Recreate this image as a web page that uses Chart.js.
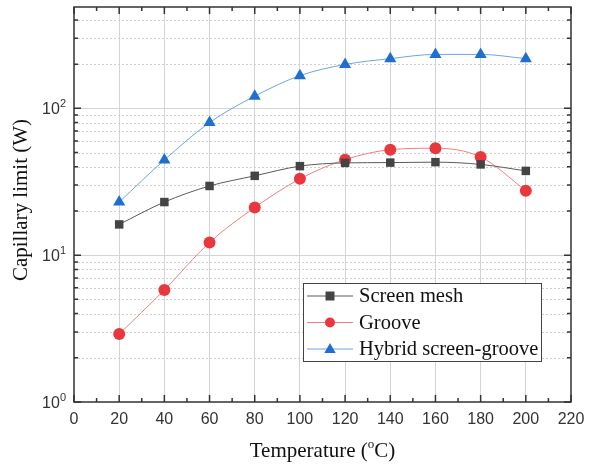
<!DOCTYPE html>
<html>
<head>
<meta charset="utf-8">
<script src="https://cdn.jsdelivr.net/npm/chart.js@4/dist/chart.umd.min.js"></script>
<style>
    body { margin: 0; background: #fff; }
    #wrap { width: 601px; height: 468px; }
</style>
</head>
<body>
<div id="wrap"><canvas id="chart" width="601" height="468"></canvas></div>
<script>
// data
const temps = [20, 40, 60, 80, 100, 120, 140, 160, 180, 200];
const screenMesh = [16.2, 23, 29.6, 34.7, 40.4, 42.5, 42.7, 43, 41.5, 37.5];
const groove = [2.9, 5.8, 12.2, 21.1, 33.1, 44.7, 52.3, 53.5, 46.6, 27.5];
const hybrid = [23, 44.5, 80, 121, 167, 199, 218, 233, 233, 218];
const seriesNames = ['Screen mesh', 'Groove', 'Hybrid screen-groove'];
const yDecades = [1, 10, 100];

const serif = '"Liberation Serif", "Times New Roman", serif';
const sans = '"Liberation Sans", Arial, sans-serif';

const styles = [
    { line: '#5a5a5a', fill: '#444444', shape: 'rect', r: 6 },
    { line: '#ee8080', fill: '#e8383d', shape: 'circle', r: 6 },
    { line: '#6aa6e0', fill: '#1f6fd1', shape: 'triangle', r: 7 }
];

function drawMarker(ctx, shape, x, y, r, color) {
    ctx.fillStyle = color;
    ctx.beginPath();
    if (shape === 'rect') {
        ctx.rect(x - r + 0.5, y - r + 0.5, 2 * r - 1, 2 * r - 1);
    } else if (shape === 'circle') {
        ctx.arc(x, y, r, 0, Math.PI * 2);
    } else {
        ctx.moveTo(x, y - r);
        ctx.lineTo(x + r * 0.95, y + r * 0.65);
        ctx.lineTo(x - r * 0.95, y + r * 0.65);
        ctx.closePath();
    }
    ctx.fill();
}

// dotted minor / solid major horizontal grid, frame, ticks, titles, legend
const logGrid = {
    id: 'logGrid',
    beforeDatasetsDraw(chart) {
        const { ctx, chartArea: a, scales: { y } } = chart;
        ctx.save();
        ctx.lineWidth = 1;
        yDecades.forEach(d => {
            for (let m = 1; m <= 9; m++) {
                const v = m * d;
                if (v <= y.min || v >= y.max) continue;
                const py = Math.round(y.getPixelForValue(v)) + 0.5;
                ctx.strokeStyle = m === 1 ? '#d4d4d4' : '#cfcfcf';
                ctx.setLineDash(m === 1 ? [] : [2, 2]);
                ctx.beginPath();
                ctx.moveTo(a.left, py);
                ctx.lineTo(a.right, py);
                ctx.stroke();
            }
        });
        ctx.restore();
    },
    afterDraw(chart) {
        const { ctx, chartArea: a, scales: { x, y } } = chart;
        ctx.save();
        // frame
        ctx.strokeStyle = '#333';
        ctx.lineWidth = 1.5;
        ctx.setLineDash([]);
        ctx.strokeRect(a.left, a.top, a.right - a.left, a.bottom - a.top);

        // x ticks, inward, bottom and top
        for (let v = 0; v <= 220; v += 10) {
            const px = x.getPixelForValue(v);
            const len = v % 20 === 0 ? 7 : 4;
            ctx.beginPath();
            ctx.moveTo(px, a.bottom); ctx.lineTo(px, a.bottom - len);
            ctx.moveTo(px, a.top); ctx.lineTo(px, a.top + len);
            ctx.stroke();
        }
        // y ticks, inward, left and right
        yDecades.forEach(d => {
            for (let m = 1; m <= 9; m++) {
                const v = m * d;
                if (v > y.max) continue;
                const py = y.getPixelForValue(v);
                const len = m === 1 ? 7 : 4;
                ctx.beginPath();
                ctx.moveTo(a.left, py); ctx.lineTo(a.left + len, py);
                ctx.moveTo(a.right, py); ctx.lineTo(a.right - len, py);
                ctx.stroke();
            }
        });

        // y tick labels 10^n
        ctx.fillStyle = '#333';
        ctx.textBaseline = 'alphabetic';
        yDecades.forEach(d => {
            const py = y.getPixelForValue(d);
            const exp = String(Math.round(Math.log10(d)));
            ctx.font = '11px ' + sans;
            const ew = ctx.measureText(exp).width;
            ctx.textAlign = 'left';
            ctx.fillText(exp, 66 - ew, py - 1);
            ctx.font = '16px ' + sans;
            ctx.textAlign = 'right';
            ctx.fillText('10', 66 - ew, py + 6);
        });

        // x title with superscript o
        ctx.fillStyle = '#111';
        const big = '21px ' + serif, small = '13px ' + serif;
        const t1 = 'Temperature (', t3 = 'C)';
        ctx.textAlign = 'left';
        ctx.font = big;
        const w1 = ctx.measureText(t1).width;
        const w3 = ctx.measureText(t3).width;
        ctx.font = small;
        const w2 = ctx.measureText('o').width;
        const sx = (a.left + a.right) / 2 - (w1 + w2 + w3) / 2;
        ctx.font = big;
        ctx.fillText(t1, sx, 457);
        ctx.font = small;
        ctx.fillText('o', sx + w1, 448);
        ctx.font = big;
        ctx.fillText(t3, sx + w1 + w2, 457);

        // y title
        ctx.save();
        ctx.translate(27, 200);
        ctx.rotate(-Math.PI / 2);
        ctx.textAlign = 'center';
        ctx.font = big;
        ctx.fillText('Capillary limit (W)', 0, 0);
        ctx.restore();

        // legend box
        const lx = 303, ly = 283, lw = 238, lh = 78;
        ctx.fillStyle = '#fff';
        ctx.fillRect(lx, ly, lw, lh);
        ctx.strokeStyle = '#444';
        ctx.lineWidth = 1;
        ctx.strokeRect(lx + 0.5, ly + 0.5, lw, lh);
        seriesNames.forEach((name, i) => {
            const s = styles[i];
            const cy = ly + 13 + i * 26.5;
            ctx.strokeStyle = s.line;
            ctx.lineWidth = 1;
            ctx.beginPath();
            ctx.moveTo(lx + 4, cy); ctx.lineTo(lx + 50, cy);
            ctx.stroke();
            drawMarker(ctx, s.shape, lx + 27, cy, s.r - 1, s.fill);
            ctx.fillStyle = '#111';
            ctx.font = '20.5px ' + serif;
            ctx.textAlign = 'left';
            ctx.textBaseline = 'middle';
            ctx.fillText(name, lx + 56, cy + 1);
        });
        ctx.restore();
    }
};

const seriesData = [screenMesh, groove, hybrid];

new Chart(document.getElementById('chart'), {
    type: 'line',
    data: {
        labels: temps,
        datasets: seriesData.map((vals, i) => ({
            label: seriesNames[i],
            data: temps.map((t, k) => ({ x: t, y: vals[k] })),
            borderColor: styles[i].line,
            borderWidth: 1,
            pointStyle: styles[i].shape,
            pointRadius: styles[i].r,
            pointBackgroundColor: styles[i].fill,
            pointBorderColor: styles[i].fill,
            pointBorderWidth: 0,
            tension: i === 2 ? 0.4 : 0.15,
            cubicInterpolationMode: 'monotone',
            fill: false
        }))
    },
    options: {
        responsive: false,
        animation: false,
        devicePixelRatio: 1,
        layout: { padding: { left: 0, right: 30, top: 4, bottom: 0 } },
        plugins: {
            legend: { display: false },
            tooltip: { enabled: false }
        },
        scales: {
            x: {
                type: 'linear',
                min: 0,
                max: 220,
                ticks: {
                    stepSize: 20,
                    color: '#333',
                    padding: 8,
                    maxRotation: 0,
                    font: { size: 16, family: sans }
                },
                grid: {
                    drawTicks: false,
                    color: c => (c.tick && (c.tick.value === 0 || c.tick.value === 220)) ? 'rgba(0,0,0,0)' : '#d4d4d4',
                    lineWidth: 1
                },
                border: { display: false },
                afterFit: s => { s.height = 66; }
            },
            y: {
                type: 'logarithmic',
                min: 1,
                max: 490,
                ticks: { display: false },
                grid: { display: false },
                border: { display: false },
                afterFit: s => { s.width = 74; }
            }
        }
    },
    plugins: [logGrid]
});
</script>
</body>
</html>
